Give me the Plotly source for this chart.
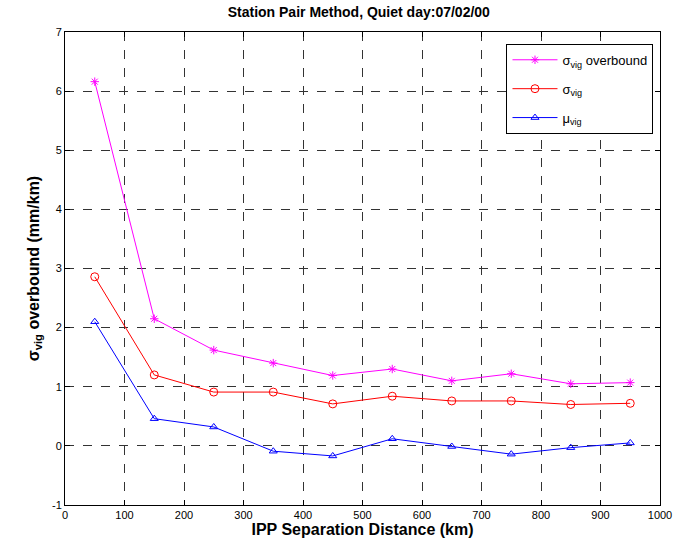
import plotly.graph_objects as go

distance_km = [50, 150, 250, 350, 450, 550, 650, 750, 850, 950]
sigma_overbound = [6.16, 2.15, 1.62, 1.40, 1.19, 1.30, 1.10, 1.22, 1.05, 1.07]
sigma_vig = [2.86, 1.20, 0.91, 0.91, 0.71, 0.84, 0.76, 0.76, 0.70, 0.72]
mu_vig = [2.10, 0.46, 0.32, -0.09, -0.17, 0.12, -0.01, -0.14, -0.03, 0.05]

x_ticks = [0, 100, 200, 300, 400, 500, 600, 700, 800, 900, 1000]
y_ticks = [-1, 0, 1, 2, 3, 4, 5, 6, 7]

FONT = "Liberation Sans, Arial, sans-serif"

fig = go.Figure()
fig.add_trace(go.Scatter(
    x=distance_km, y=sigma_overbound, mode="lines+markers",
    name="σ<sub>vig</sub> overbound", legendgroup="a",
    line=dict(color="#ff00ff", width=1),
    marker=dict(symbol="asterisk-open", size=7, color="#ff00ff", line=dict(color="#ff00ff", width=1)),
))
fig.add_trace(go.Scatter(
    x=distance_km, y=sigma_vig, mode="lines+markers",
    name="σ<sub>vig</sub>", legendgroup="b",
    line=dict(color="#ff0000", width=1),
    marker=dict(symbol="circle-open", size=8, color="#ff0000", line=dict(color="#ff0000", width=1)),
))
fig.add_trace(go.Scatter(
    x=distance_km, y=mu_vig, mode="lines+markers",
    name="μ<sub>vig</sub>", legendgroup="c",
    line=dict(color="#0000ff", width=1),
    marker=dict(symbol="triangle-up-open", size=7, color="#0000ff", line=dict(color="#0000ff", width=1)),
))

axis_common = dict(
    showline=True, linecolor="black", linewidth=1, mirror="ticks",
    ticks="inside", ticklen=5, tickcolor="black",
    showgrid=True, gridcolor="#333333", griddash="dash", gridwidth=1,
    zeroline=False, tickfont=dict(family=FONT, size=11, color="black"),
)

fig.update_layout(
    width=690, height=549,
    margin=dict(l=65, r=30, t=32, b=44),
    paper_bgcolor="white", plot_bgcolor="white",
    title=dict(text="<b>Station Pair Method, Quiet day:07/02/00</b>",
               x=0.52, xanchor="center", y=0.978, yanchor="middle",
               font=dict(family=FONT, size=14, color="black")),
    xaxis=dict(range=[0, 1000], tickvals=x_ticks, ticktext=[str(v) for v in x_ticks],
               title=dict(text="<b>IPP Separation Distance (km)</b>", standoff=2,
                          font=dict(family=FONT, size=16, color="black")),
               **axis_common),
    yaxis=dict(range=[-1, 7], tickvals=y_ticks, ticktext=[str(v) for v in y_ticks],
               title=dict(text="<b>σ<sub>vig</sub> overbound (mm/km)</b>", standoff=8,
                          font=dict(family=FONT, size=16, color="black")),
               **axis_common),
    legend=dict(x=0.742, y=0.975, xanchor="left", yanchor="top",
                bgcolor="white", bordercolor="black", borderwidth=1,
                font=dict(family=FONT, size=13, color="black"),
                tracegroupgap=9, itemwidth=45),
    showlegend=True,
)

fig.write_html("out.html")
